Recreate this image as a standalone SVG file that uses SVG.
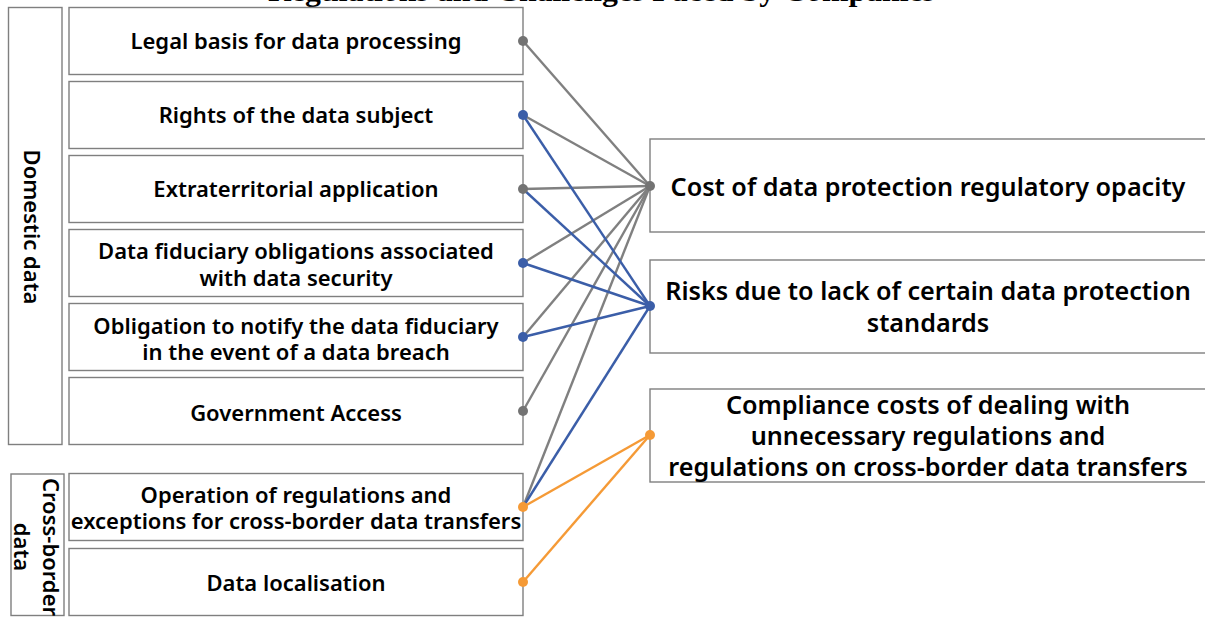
<svg xmlns="http://www.w3.org/2000/svg" width="1205" height="617" viewBox="0 0 1205 617">
<style>
.bg{fill:#ffffff}
.box{fill:#ffffff;stroke:#7f7f7f;stroke-width:1.4}
.t{font-family:"Noto Sans","Open Sans",sans-serif;font-weight:600;font-size:22px;fill:#000;text-anchor:middle}
.tr{font-family:"Noto Sans","Open Sans",sans-serif;font-weight:600;font-size:25.2px;fill:#000;text-anchor:middle}
.tl{font-family:"Noto Sans","Open Sans",sans-serif;font-weight:600;font-size:22px;fill:#000;text-anchor:middle}
.title{font-family:"Liberation Serif","Times New Roman",serif;font-weight:bold;font-size:30px;fill:#000}
.g{stroke:#808080;stroke-width:2.4;fill:none}
.b{stroke:#3b5ea8;stroke-width:2.4;fill:none}
.o{stroke:#f59a36;stroke-width:2.4;fill:none}
.dg{fill:#737373}
.db{fill:#3b5ea8}
.do{fill:#f59a36}
</style>
<rect class="bg" x="0" y="0" width="1205" height="617"/>
<text class="title" x="268" y="0.5" textLength="667" lengthAdjust="spacingAndGlyphs">Regulations and Challenges Faced by Companies</text>

<g id="label-domestic">
<rect class="box" x="8.5" y="7.5" width="53.5" height="437"/>
<text class="tl" transform="translate(24,227) rotate(90)">Domestic data</text>
</g>
<g id="label-crossborder">
<rect class="box" x="11" y="474" width="53" height="141.5"/>
<text class="tl" transform="translate(43,547) rotate(90)"><tspan x="0" y="0">Cross-border</tspan><tspan x="0" y="29">data</tspan></text>
</g>

<g id="n1"><rect class="box" x="69" y="7.5" width="454" height="67"/><text class="t" x="296" y="48.5">Legal basis for data processing</text></g>
<g id="n2"><rect class="box" x="69" y="81.5" width="454" height="67"/><text class="t" x="296" y="122.5">Rights of the data subject</text></g>
<g id="n3"><rect class="box" x="69" y="155.5" width="454" height="67"/><text class="t" x="296" y="196.5">Extraterritorial application</text></g>
<g id="n4"><rect class="box" x="69" y="229.5" width="454" height="67"/><text class="t" x="296" y="258.5">Data fiduciary obligations associated</text><text class="t" x="296" y="285.5">with data security</text></g>
<g id="n5"><rect class="box" x="69" y="303.5" width="454" height="67"/><text class="t" x="296" y="333.5">Obligation to notify the data fiduciary</text><text class="t" x="296" y="359.5">in the event of a data breach</text></g>
<g id="n6"><rect class="box" x="69" y="377.5" width="454" height="67"/><text class="t" x="296" y="420.5">Government Access</text></g>
<g id="n7"><rect class="box" x="69" y="473.5" width="454" height="67"/><text class="t" x="296" y="502.5">Operation of regulations and</text><text class="t" x="296" y="528.5">exceptions for cross-border data transfers</text></g>
<g id="n8"><rect class="box" x="69" y="548.5" width="454" height="67"/><text class="t" x="296" y="590.5">Data localisation</text></g>

<g id="r1"><rect class="box" x="650" y="139" width="556" height="93"/><text class="tr" x="928" y="196">Cost of data protection regulatory opacity</text></g>
<g id="r2"><rect class="box" x="650" y="260" width="556" height="93"/><text class="tr" x="928" y="300">Risks due to lack of certain data protection</text><text class="tr" x="928" y="331.5">standards</text></g>
<g id="r3"><rect class="box" x="650" y="389" width="556" height="93"/><text class="tr" x="928" y="414">Compliance costs of dealing with</text><text class="tr" x="928" y="445">unnecessary regulations and</text><text class="tr" x="928" y="476">regulations on cross-border data transfers</text></g>

<g id="connectors">
<line class="g" x1="523" y1="41" x2="650" y2="186"/>
<line class="g" x1="523" y1="115" x2="650" y2="186"/>
<line class="g" x1="523" y1="189" x2="650" y2="186"/>
<line class="g" x1="523" y1="263" x2="650" y2="186"/>
<line class="g" x1="523" y1="337" x2="650" y2="186"/>
<line class="g" x1="523" y1="411" x2="650" y2="186"/>
<line class="g" x1="523" y1="507" x2="650" y2="186"/>
<line class="b" x1="523" y1="115" x2="650" y2="306"/>
<line class="b" x1="523" y1="189" x2="650" y2="306"/>
<line class="b" x1="523" y1="263" x2="650" y2="306"/>
<line class="b" x1="523" y1="337" x2="650" y2="306"/>
<line class="b" x1="523" y1="507" x2="650" y2="306"/>
<line class="o" x1="523" y1="507" x2="650" y2="435"/>
<line class="o" x1="523" y1="582" x2="650" y2="435"/>
<circle class="dg" cx="523" cy="41" r="5"/>
<circle class="db" cx="523" cy="115" r="5"/>
<circle class="dg" cx="523" cy="189" r="5"/>
<circle class="db" cx="523" cy="263" r="5"/>
<circle class="db" cx="523" cy="337" r="5"/>
<circle class="dg" cx="523" cy="411" r="5"/>
<circle class="do" cx="523" cy="507" r="5"/>
<circle class="do" cx="523" cy="582" r="5"/>
<circle class="dg" cx="650" cy="186" r="5"/>
<circle class="db" cx="650" cy="306" r="5"/>
<circle class="do" cx="650" cy="435" r="5"/>
</g>
</svg>
